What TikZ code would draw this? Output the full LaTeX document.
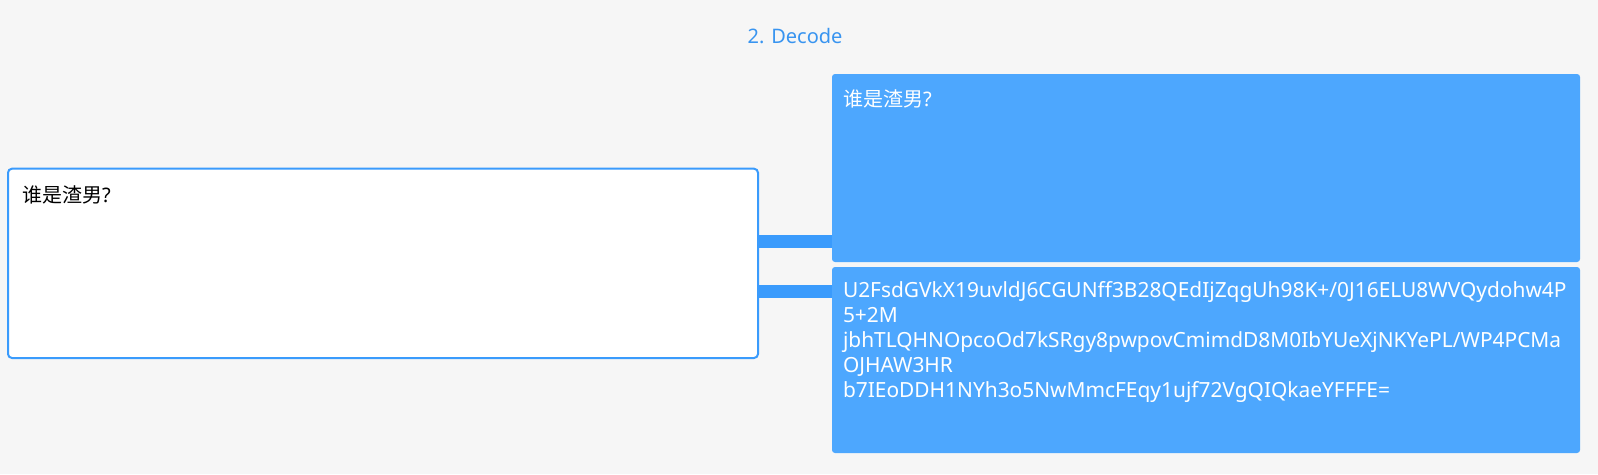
\documentclass[tikz,border=0pt]{standalone}
\usepackage{fontspec}
\setmainfont{Noto Sans}
\newfontfamily\cjk{Noto Sans CJK SC}
\usepackage{xcolor}
\usetikzlibrary{positioning}
\definecolor{bggray}{HTML}{F6F6F6}
\definecolor{boxblue}{HTML}{4DA7FE}
\definecolor{barblue}{HTML}{3A9BFC}
\definecolor{titleblue}{HTML}{3894F0}

\begin{document}
\begin{tikzpicture}[x=1pt,y=-1pt,outer sep=0pt,font=\fontsize{20}{25}\selectfont]
	\tikzstyle{card}=[fill=boxblue, text=white, rounded corners=3pt, inner sep=0pt, inner xsep=11pt, text width=726pt, align=left, anchor=north west]
	\tikzstyle{input}=[draw=barblue, line width=2pt, fill=white, rounded corners=4pt, inner sep=0pt, inner xsep=14pt, text width=722pt, align=left, anchor=north west, text height=34pt, text depth=155.3pt]
	\tikzstyle{bar}=[color=barblue, line width=12.5pt]
	\fill[bggray] (0,0) rectangle (1598,474);
	\node (title) [anchor=base, text=titleblue] at (795,43) {2. Decode};
	\node[input] (src) at (8,168.7) {{\cjk 谁是渣男}?};
	\node[card, text height=32.6pt, text depth=155.4pt] (plain) at (832,74) {{\cjk 谁是渣男}?};
	\node[card, text height=30.3pt, text depth=155.7pt, font=\fontsize{20.9}{25}\selectfont] (cipher) [below=5pt of plain.south west, anchor=north west]
		{U2FsdGVkX19uvldJ6CGUNff3B28QEdIjZqgUh98K+/0J16ELU8WVQydohw4P\\
		 5+2M\\
		 jbhTLQHNOpcoOd7kSRgy8pwpovCmimdD8M0IbYUeXjNKYePL/WP4PCMa\\
		 OJHAW3HR\\
		 b7IEoDDH1NYh3o5NwMmcFEqy1ujf72VgQIQkaeYFFFE=};
	\coordinate (y1) at (0,241.4);
	\coordinate (y2) at (0,291.3);
	\path[bar]
		(src.east |- y1) edge (plain.west |- y1)
		(src.east |- y2) edge (cipher.west |- y2);
\end{tikzpicture}
\end{document}
